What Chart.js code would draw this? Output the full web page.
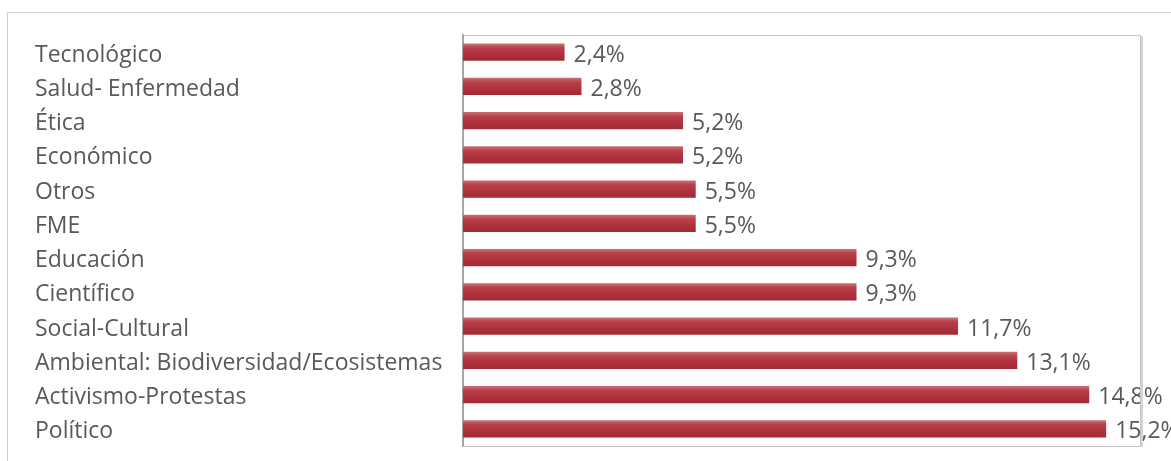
<!DOCTYPE html>
<html>
<head>
<meta charset="utf-8">
<script src="https://cdn.jsdelivr.net/npm/chart.js@4"></script>
<style>
  html, body { margin: 0; padding: 0; background: #fff; }
  body { width: 1171px; height: 461px; overflow: hidden; position: relative; }
  #frame { position: absolute; left: 7px; top: 12px; width: 1165px; height: 470px; border: 1px solid #cfcfcf; box-sizing: border-box; }
  #wrap { position: absolute; left: 0; top: 0; width: 1171px; height: 461px; }
</style>
</head>
<body>
<div id="frame"></div>
<div id="wrap"><canvas id="temasChart"></canvas></div>
<script>
const categories = ['Tecnológico', 'Salud- Enfermedad', 'Ética', 'Económico', 'Otros', 'FME',
  'Educación', 'Científico', 'Social-Cultural', 'Ambiental: Biodiversidad/Ecosistemas',
  'Activismo-Protestas', 'Político'];
const percentages = [2.4, 2.8, 5.2, 5.2, 5.5, 5.5, 9.3, 9.3, 11.7, 13.1, 14.8, 15.2];
const axisMin = 0;
const axisMax = 16;

const textColor = '#595959';
const fontFamily = '"Open Sans", "Liberation Sans", sans-serif';
const fontSize = 23;

// bar fill: light top edge, darker bottom, like the Excel bevel
function barFill(context) {
  const chart = context.chart;
  if (!chart.chartArea || !chart.scales.y) return '#b3333d';
  const yScale = chart.scales.y;
  const center = yScale.getPixelForValue(context.dataIndex);
  const half = 8.5;
  const g = chart.ctx.createLinearGradient(0, center - half, 0, center + half);
  g.addColorStop(0, '#cc7077');
  g.addColorStop(0.25, '#b8404a');
  g.addColorStop(0.7, '#ad2f39');
  g.addColorStop(1, '#a32a34');
  return g;
}

const plotFrame = {
  id: 'plotFrame',
  afterDraw(chart) {
    const { ctx, chartArea: a } = chart;
    ctx.save();
    ctx.strokeStyle = '#c4c4c4';
    ctx.lineWidth = 1;
    ctx.beginPath();
    ctx.moveTo(a.left, a.top + 0.5);
    ctx.lineTo(a.right + 0.5, a.top + 0.5);
    ctx.lineTo(a.right + 0.5, a.bottom + 0.5);
    ctx.lineTo(a.left, a.bottom + 0.5);
    ctx.stroke();
    ctx.strokeStyle = '#d4d4d4';
    ctx.lineWidth = 2;
    ctx.beginPath();
    ctx.moveTo(a.right + 2, a.top + 1);
    ctx.lineTo(a.right + 2, a.bottom + 1);
    ctx.stroke();
    ctx.restore();
  }
};

const valueLabels = {
  id: 'valueLabels',
  afterDatasetsDraw(chart) {
    const { ctx } = chart;
    const meta = chart.getDatasetMeta(0);
    ctx.save();
    ctx.font = fontSize + 'px ' + fontFamily;
    ctx.fillStyle = textColor;
    ctx.textAlign = 'left';
    ctx.textBaseline = 'middle';
    meta.data.forEach((bar, i) => {
      const txt = percentages[i].toFixed(1).replace('.', ',') + '%';
      ctx.fillText(txt, bar.x + 9, bar.y + 3);
    });
    ctx.restore();
  }
};

const ctx = document.getElementById('temasChart').getContext('2d');
const temasChart = new Chart(ctx, {
  type: 'bar',
  data: {
    labels: categories,
    datasets: [{
      data: percentages,
      backgroundColor: barFill,
      borderWidth: 0,
      barPercentage: 0.5,
      categoryPercentage: 1.0
    }]
  },
  options: {
    indexAxis: 'y',
    responsive: true,
    maintainAspectRatio: false,
    animation: false,
    layout: { padding: { left: 35, top: 35, right: 31, bottom: 15 } },
    scales: {
      x: {
        display: false,
        min: axisMin,
        max: axisMax
      },
      y: {
        grid: { display: false, drawTicks: false },
        border: { display: true, color: '#a6a6a6', width: 2 },
        afterFit(scale) { scale.width = 428; },
        ticks: {
          crossAlign: 'far',
          padding: 0,
          labelOffset: 3,
          color: textColor,
          font: { family: fontFamily, size: fontSize }
        }
      }
    },
    plugins: {
      legend: { display: false },
      tooltip: { enabled: false }
    }
  },
  plugins: [plotFrame, valueLabels]
});
</script>
</body>
</html>
